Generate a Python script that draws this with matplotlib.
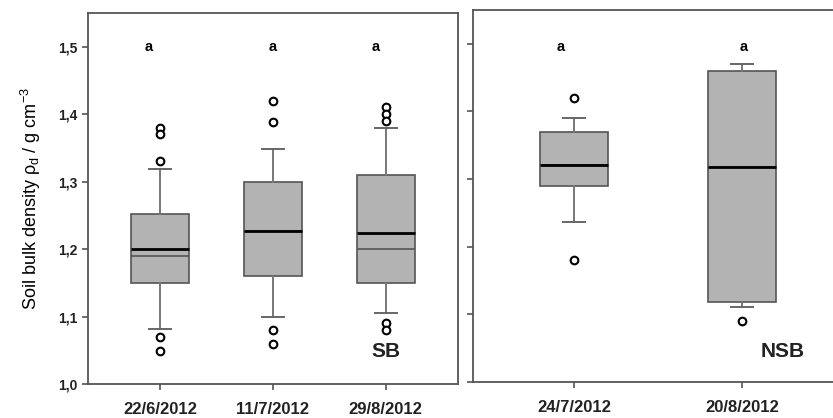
import matplotlib.pyplot as plt

plt.rcParams["font.family"] = ["Liberation Sans", "DejaVu Sans"]
plt.rcParams["mathtext.fontset"] = "custom"
plt.rcParams["mathtext.rm"] = "Liberation Sans"
plt.rcParams["mathtext.it"] = "Liberation Sans"

# SB site
sb_dates = ["22/6/2012", "11/7/2012", "29/8/2012"]
sb_q1 = [1.150, 1.160, 1.150]
sb_q3 = [1.252, 1.300, 1.310]
sb_median = [1.190, 1.227, 1.200]
sb_mean = [1.200, 1.227, 1.224]
sb_whislo = [1.081, 1.100, 1.105]
sb_whishi = [1.318, 1.349, 1.380]
sb_fliers = [
    [1.380, 1.371, 1.330, 1.069, 1.049],
    [1.420, 1.389, 1.080, 1.059],
    [1.410, 1.400, 1.390, 1.091, 1.080],
]

# NSB site
nsb_dates = ["24/7/2012", "20/8/2012"]
nsb_q1 = [1.290, 1.119]
nsb_q3 = [1.369, 1.460]
nsb_median = [1.321, 1.318]
nsb_mean = [1.321, 1.318]
nsb_whislo = [1.237, 1.111]
nsb_whishi = [1.391, 1.470]
nsb_fliers = [[1.420, 1.180], [1.090]]

letters_sb = ["a", "a", "a"]
letters_nsb = ["a", "a"]
yticks = [1.0, 1.1, 1.2, 1.3, 1.4, 1.5]

EDGE = "#555555"
FILL = "#b3b3b3"


def make_stats(q1, q3, med, mean, lo, hi, fliers):
    return [
        dict(q1=a, q3=b, med=c, mean=d, whislo=e, whishi=f, fliers=g)
        for a, b, c, d, e, f, g in zip(q1, q3, med, mean, lo, hi, fliers)
    ]


def draw(ax, stats, width, capwidth):
    ax.bxp(
        stats,
        positions=range(1, len(stats) + 1),
        widths=width,
        capwidths=capwidth,
        patch_artist=True,
        showmeans=True,
        meanline=True,
        boxprops=dict(facecolor=FILL, edgecolor=EDGE, linewidth=1.2),
        whiskerprops=dict(color="#777777", linewidth=1.4),
        capprops=dict(color="#666666", linewidth=1.4),
        medianprops=dict(color="#555555", linewidth=1.2),
        meanprops=dict(color="black", linewidth=2.0, linestyle="-"),
        flierprops=dict(marker="o", markersize=5.5, markerfacecolor="white",
                        markeredgecolor="black", markeredgewidth=1.5),
    )
    ax.set_ylim(1.0, 1.55)
    ax.set_yticks(yticks)
    for s in ax.spines.values():
        s.set_color(EDGE)
        s.set_linewidth(1.3)
    ax.tick_params(direction="out", color=EDGE, width=1.2, length=4)


fig = plt.figure(figsize=(8.33, 4.18), dpi=100)
ax1 = fig.add_axes([0.1056, 0.0813, 0.4442, 0.8877])
ax2 = fig.add_axes([0.5678, 0.0861, 0.4442, 0.8900])

draw(ax1, make_stats(sb_q1, sb_q3, sb_median, sb_mean, sb_whislo, sb_whishi, sb_fliers), 0.51, 0.2)
ax1.set_xlim(0.36, 3.64)
ax1.set_xticks([1, 2, 3])
ax1.set_xticklabels(sb_dates, fontsize=12, fontweight="bold", color="#222222")
ax1.set_yticklabels([f"{v:.1f}".replace(".", ",") for v in yticks],
                    fontsize=10, fontweight="bold", color="#222222")
ax1.tick_params(axis="x", pad=9)
for pos, t, dx in zip([1, 2, 3], letters_sb, [-0.1, 0.0, -0.09]):
    ax1.text(pos + dx, 1.5, t, ha="center", va="center", fontsize=10.5, fontweight="bold")
ax1.text(3, 1.048, "SB", ha="center", va="center", fontsize=15, fontweight="bold", color="#222222")
ax1.set_ylabel(r"Soil bulk density $\rho_\mathrm{d}$ / g cm$^{-3}$", fontsize=13, labelpad=11)

draw(ax2, make_stats(nsb_q1, nsb_q3, nsb_median, nsb_mean, nsb_whislo, nsb_whishi, nsb_fliers), 0.4, 0.13)
ax2.set_xlim(0.4, 2.6)
ax2.set_xticks([1, 2])
ax2.set_xticklabels(nsb_dates, fontsize=12, fontweight="bold", color="#222222")
ax2.set_yticklabels([])
ax2.tick_params(axis="x", pad=9)
for pos, t, dx in zip([1, 2], letters_nsb, [-0.08, 0.01]):
    ax2.text(pos + dx, 1.495, t, ha="center", va="center", fontsize=10.5, fontweight="bold")
ax2.text(2.24, 1.045, "NSB", ha="center", va="center", fontsize=15, fontweight="bold", color="#222222")

fig.savefig("out.png", dpi=100)
